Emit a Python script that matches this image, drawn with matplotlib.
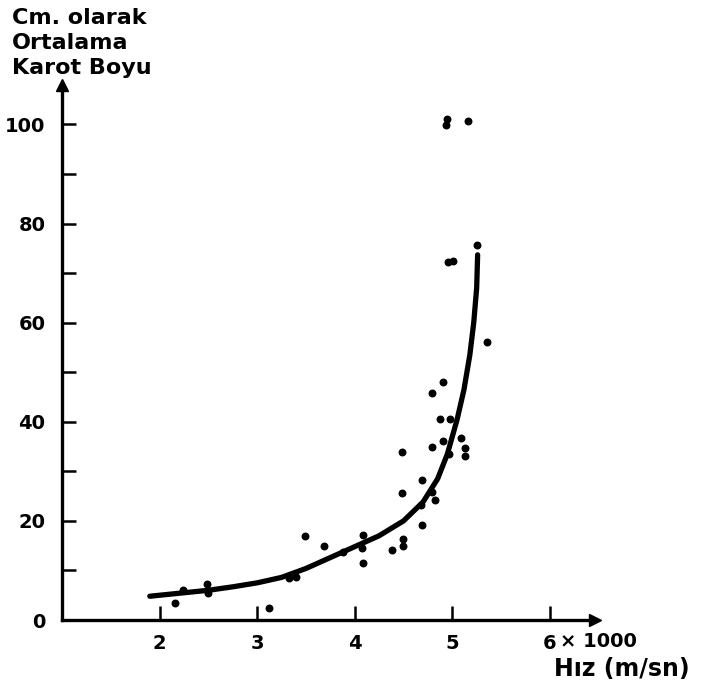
import matplotlib
matplotlib.use("Agg")
import matplotlib.pyplot as plt

# Ölçülen noktalar (hız x1000 m/sn, ortalama karot boyu cm)
hiz = [2.16, 2.24, 2.49, 2.50, 3.12, 3.33, 3.40, 3.49, 3.685, 3.88,
       4.09, 4.09, 4.08, 4.387, 4.49, 4.50, 4.48, 4.48, 4.69, 4.68,
       4.82, 4.79, 4.69, 4.79, 4.91, 4.97, 5.09, 5.13, 5.13, 4.87,
       4.98, 4.79, 4.91, 5.36, 4.96, 5.01, 5.25, 4.95, 4.94, 5.16]
boy = [3.4, 6.1, 7.3, 5.4, 2.5, 8.4, 8.7, 17.0, 14.9, 13.8,
       17.2, 11.5, 14.5, 14.1, 14.9, 16.4, 25.6, 33.9, 19.1, 23.2,
       24.2, 25.9, 28.3, 35.0, 36.2, 33.5, 36.8, 34.8, 33.2, 40.6,
       40.6, 45.8, 48.1, 56.2, 72.3, 72.4, 75.6, 101.2, 99.8, 100.8]

# Elle çizilmiş eğri
egri_x = [1.9, 2.0, 2.25, 2.5, 2.75, 3.0, 3.25, 3.5, 3.75, 4.0, 4.25, 4.5,
          4.7, 4.85, 4.95, 5.05, 5.12, 5.18, 5.22, 5.25, 5.26]
egri_y = [4.8, 5.0, 5.5, 6.0, 6.7, 7.5, 8.6, 10.4, 12.6, 14.8, 17.0, 20.0,
          23.8, 28.5, 33.5, 40.5, 46.5, 53.5, 60.0, 67.0, 73.7]

x_ticks = [2, 3, 4, 5, 6]
y_major = [0, 20, 40, 60, 80, 100]
y_minor = [10, 30, 50, 70, 90]

plt.rcParams['font.family'] = ['DejaVu Sans']
plt.rcParams['font.weight'] = 'bold'

fig = plt.figure(figsize=(7.01, 6.87), dpi=100)
ax = fig.add_axes([0.0884, 0.0975, 0.760, 0.779])
ax.set_xlim(1, 6.46)
ax.set_ylim(0, 108)

ax.plot(egri_x, egri_y, color='black', lw=3.8, solid_capstyle='round')
ax.scatter(hiz, boy, s=22, color='black', zorder=3)

for s in ['top', 'right']:
    ax.spines[s].set_visible(False)
for s in ['left', 'bottom']:
    ax.spines[s].set_linewidth(2.4)

# ok uçları
ax.plot(1, 0, marker='>', ms=9, color='black', transform=ax.transAxes, clip_on=False)
ax.plot(0, 1, marker='^', ms=9, color='black', transform=ax.transAxes, clip_on=False)

ax.set_xticks(x_ticks)
ax.set_xticklabels([str(t) for t in x_ticks])
ax.set_yticks(y_major)
ax.set_yticks(y_minor, minor=True)
ax.tick_params(axis='both', which='both', direction='in', length=10, width=1.8,
               labelsize=14, pad=-4)
ax.tick_params(axis='x', pad=10)
ax.tick_params(axis='y', which='major', pad=12)

ax.text(6.1, -4.4, "× 1000", fontsize=14, fontweight='bold', va='center', ha='left')
ax.text(6.04, -9.9, "Hız (m/sn)", fontsize=17, fontweight='bold', va='center', ha='left')

fig.text(0.017, 0.988, "Cm. olarak\nOrtalama\nKarot Boyu", fontsize=16,
         fontweight='bold', va='top', ha='left', linespacing=1.3)

fig.savefig("out.png", dpi=100)
